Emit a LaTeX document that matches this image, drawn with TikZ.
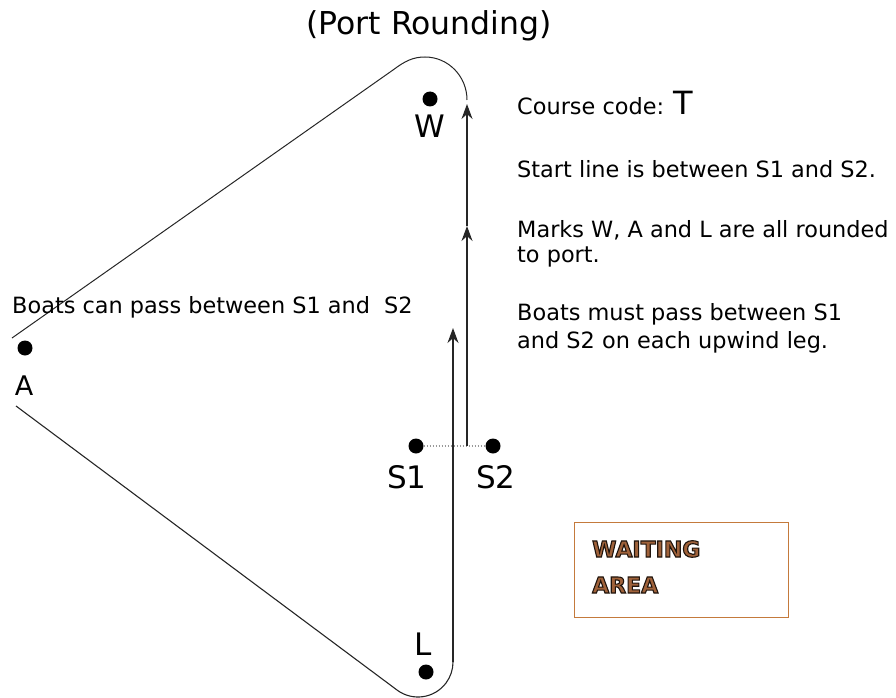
\documentclass[tikz,border=0pt]{standalone}
\usepackage{fontspec}
\setmainfont{DejaVu Sans}
\usetikzlibrary{arrows.meta}
\definecolor{boxorange}{HTML}{C47A3C}
\definecolor{waitfill}{HTML}{A0623A}
\newcommand{\outlinetext}[1]{\textcolor{waitfill}{\special{pdf:literal direct 2 Tr 1.1 w 0.12 0.08 0.05 RG}#1\special{pdf:literal direct 0 Tr}}}
\begin{document}
\begin{tikzpicture}[x=1pt,y=-1pt,
  dot/.style={circle,fill=black,inner sep=0pt,minimum size=15pt},
  lbl/.style={inner sep=0pt,anchor=base,font=\fontsize{31}{31}\selectfont},
  body/.style={inner sep=0pt,anchor=base west,font=\fontsize{22.4}{27}\selectfont},
  course/.style={line width=1.3pt,draw=black!85},
  tip/.style={-{Stealth[length=15pt,width=11pt]}},
  waittext/.style={inner sep=0pt,anchor=base west,font=\fontsize{22}{22}\selectfont\bfseries}
]
\useasboundingbox (0,0) rectangle (896,698);

% title
\node[inner sep=0pt,anchor=base,font=\fontsize{31.5}{31.5}\selectfont] (title) at (429,35) {(Port Rounding)};

% marks
\node[dot] (W) at (430,99) {};
\node[lbl] (Wl) at (430,137) {W};
\node[dot] (A) at (25,348) {};
\node[lbl,font=\fontsize{27}{27}\selectfont] (Al) at (24,395) {A};
\node[dot] (L) at (426,672) {};
\node[lbl] (Ll) at (423,655) {L};
\node[dot] (S1) at (416,446) {};
\node[lbl] (S1l) at (407,488) {S1};
\node[dot] (S2) at (493,446) {};
\node[lbl] (S2l) at (496,488) {S2};

% start line
\draw[line width=1.3pt,gray!80,dash pattern=on 1.5pt off 1.5pt] (S1) -- (S2);

% course: top leg
\coordinate (topstart) at (12,338);
\coordinate (topbend) at (393,70);
\coordinate (startR) at (467,446);
\coordinate (midR) at (467,226);
\draw[course,line width=1pt] (topstart) -- (topbend) .. controls (405,61) and (413,57) .. (425,57)
  arc[start angle=-90,end angle=0,x radius=42,y radius=43];
\draw[course,tip] (startR) -- (midR);
\draw[course,tip] (midR) -- (467,104);

% course: bottom leg
\coordinate (botstart) at (16,406);
\coordinate (botbend) at (397,690);
\coordinate (lright) at (453,662);
\coordinate (upTip) at (453,328);
\draw[course,line width=1.1pt] (botstart) -- (botbend) arc[start angle=126.87,end angle=0,radius=35];
\draw[course,tip] (lright) -- (upTip);

% left note
\node[body] (note) at (12,313) {Boats can pass between S1 and\hspace{7pt} S2};

% right text
\node[body] (cc) at (517,115) {Course code: {\fontsize{32}{32}\selectfont T}};
\node[body] (sl) at (517,177) {Start line is between S1 and S2.};
\node[body] (mk1) at (517,237) {Marks W, A and L are all rounded};
\node[body] (mk2) at (517,262) {to port.};
\node[body] (bm1) at (517,320) {Boats must pass between S1};
\node[body] (bm2) at (517,348) {and S2 on each upwind leg.};

% waiting area
\node[draw=boxorange,line width=1.4pt,minimum width=214pt,minimum height=95pt,anchor=north west,inner sep=0pt] (wait) at (574,522) {};
\node[waittext] (wt1) at (592,557) {\outlinetext{WAITING}};
\node[waittext] (wt2) at (592,593) {\outlinetext{AREA}};
\end{tikzpicture}
\end{document}
